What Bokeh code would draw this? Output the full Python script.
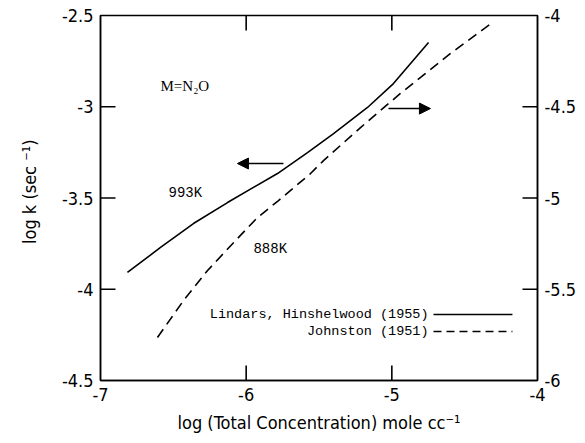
from bokeh.plotting import figure
from bokeh.models import (Range1d, LinearAxis, FixedTicker, Arrow, NormalHead, Title)
from bokeh.embed import file_html
from bokeh.resources import INLINE
from bokeh.core.properties import value

# Lindars, Hinshelwood (1955), 993K, left axis
solid_x = [-6.815, -6.588, -6.362, -6.128, -5.950, -5.785, -5.579, -5.400, -5.167, -4.989, -4.748]
solid_y = [-3.908, -3.771, -3.640, -3.525, -3.442, -3.366, -3.251, -3.147, -3.004, -2.873, -2.648]

# Johnston (1951), 888K, right axis
dash_x = [-6.609, -6.430, -6.265, -6.073, -5.922, -5.778, -5.558, -5.469, -5.215, -4.941, -4.597, -4.309]
dash_y = [-5.764, -5.562, -5.397, -5.233, -5.107, -5.014, -4.866, -4.795, -4.614, -4.427, -4.208, -4.038]

x_ticks = [-7.0, -6.0, -5.0, -4.0]
x_tick_labels = ["-7", "-6", "-5", "-4"]
yl_ticks = [-4.5, -4.0, -3.5, -3.0, -2.5]
yl_tick_labels = ["-4.5", "-4", "-3.5", "-3", "-2.5"]
yr_ticks = [-6.0, -5.5, -5.0, -4.5, -4.0]
yr_tick_labels = ["-6", "-5.5", "-5", "-4.5", "-4"]

X0, X1 = -7.0, -4.0
YL0, YL1 = -4.5, -2.5
YR0, YR1 = -6.0, -4.0

TICK_FONT = "DejaVu Sans Condensed"
MONO = "Liberation Mono"
TICK_PX = 15

p = figure(width=585, height=443, output_backend="svg", toolbar_location=None,
           x_range=Range1d(X0, X1), y_range=Range1d(YL0, YL1),
           min_border_left=100, min_border_right=48, min_border_top=15, min_border_bottom=63)
p.extra_y_ranges = {"right": Range1d(YR0, YR1)}
p.xgrid.visible = False
p.ygrid.visible = False
p.outline_line_color = "black"
p.outline_line_width = 1.5
p.background_fill_color = "white"
p.border_fill_color = "white"


def style_axis(ax, ticks, labels):
    ax.ticker = FixedTicker(ticks=ticks)
    ax.major_label_overrides = {t: l for t, l in zip(ticks, labels)}
    ax.minor_tick_line_color = None
    ax.major_tick_in = 0
    ax.major_tick_out = 0
    ax.axis_line_width = 1.5
    ax.axis_line_color = "black"
    ax.major_label_text_font = TICK_FONT
    ax.major_label_text_font_size = "18px"
    ax.major_label_text_color = "black"
    ax.major_label_standoff = 7


style_axis(p.xaxis[0], x_ticks, x_tick_labels)
style_axis(p.yaxis[0], yl_ticks, yl_tick_labels)

right = LinearAxis(y_range_name="right")
style_axis(right, yr_ticks, yr_tick_labels)
p.add_layout(right, "right")

# inward ticks as thin filled bars centred on the frame edge (outer half clipped)
xt = x_ticks[1:-1]
p.rect(x=xt + xt, y=[YL0] * len(xt) + [YL1] * len(xt), width=1.6, height=2 * TICK_PX,
       width_units="screen", height_units="screen", fill_color="black", line_color=None)
ylt = yl_ticks[1:-1]
p.rect(x=[X0] * len(ylt), y=ylt, width=2 * TICK_PX, height=1.6,
       width_units="screen", height_units="screen", fill_color="black", line_color=None)
yrt = yr_ticks[1:-1]
p.rect(x=[X1] * len(yrt), y=yrt, width=2 * TICK_PX, height=1.6,
       width_units="screen", height_units="screen", fill_color="black", line_color=None,
       y_range_name="right")

p.line(solid_x, solid_y, line_color="black", line_width=1.6)
p.line(dash_x, dash_y, line_color="black", line_width=1.6, line_dash="10 6",
       y_range_name="right")

# arrows
p.add_layout(Arrow(end=NormalHead(size=11, fill_color="black", line_color="black"),
                   x_start=-5.744, y_start=-3.311, x_end=-6.06, y_end=-3.311,
                   line_width=1.5, line_color="black"))
p.add_layout(Arrow(end=NormalHead(size=11, fill_color="black", line_color="black"),
                   x_start=-5.023, y_start=-3.010, x_end=-4.735, y_end=-3.010,
                   line_width=1.5, line_color="black"))

# in-plot texts
p.text(x=[-6.588], y=[-2.884], text=["M=N\u2082O"], text_font=value("Liberation Serif"),
       text_font_size="15px", text_baseline="middle", text_align="left", text_color="black")
p.text(x=[-6.533, -5.950], y=[-3.470, -3.777], text=["993K", "888K"], text_font=value(MONO),
       text_font_size="14px", text_baseline="middle", text_align="left", text_color="black")

# legend (text left of sample line)
p.text(x=[-4.748, -4.748], y=[-4.138, -4.232],
       text=["Lindars, Hinshelwood (1955)", "Johnston (1951)"], text_font=value(MONO),
       text_font_size="13.5px", text_baseline="middle", text_align="right", text_color="black")
p.segment(x0=[-4.714], y0=[-4.138], x1=[-4.172], y1=[-4.138], line_color="black", line_width=1.5)
p.segment(x0=[-4.714], y0=[-4.232], x1=[-4.172], y1=[-4.232], line_color="black", line_width=1.5,
          line_dash="8 5")

# axis titles
p.add_layout(Title(text="log (Total Concentration) mole cc\u207b\u00b9", align="center",
                   text_font=TICK_FONT, text_font_size="18px", text_font_style="normal",
                   text_color="black", standoff=12), "below")
p.add_layout(Title(text="log k (sec \u207b\u00b9)", align="right", offset=124,
                   vertical_align="top",
                   text_font=TICK_FONT, text_font_size="18px", text_font_style="normal",
                   text_color="black", standoff=34), "left")

open("out.html", "w").write(file_html(p, INLINE))
